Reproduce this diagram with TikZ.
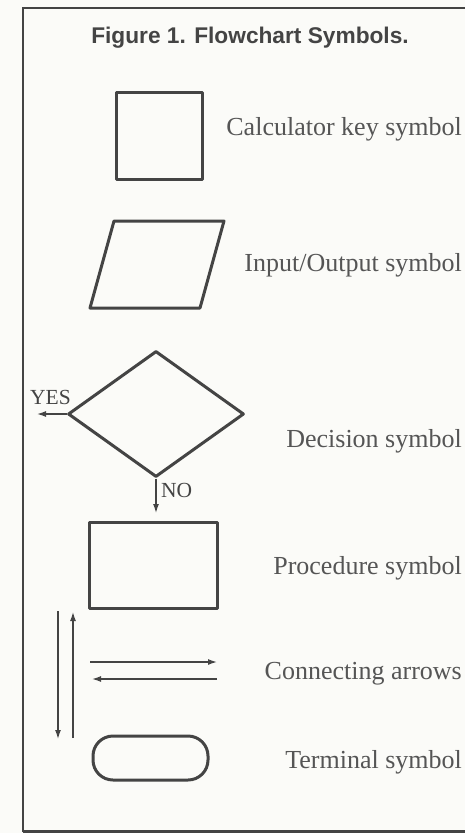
\documentclass[tikz,border=0pt]{standalone}
\usepackage{fontspec}
\setmainfont{Liberation Serif}
\newfontfamily\headfont{Liberation Sans}
\usetikzlibrary{shapes.geometric,arrows.meta}

\definecolor{paper}{HTML}{FBFBF8}
\definecolor{ink}{HTML}{444444}
\definecolor{typeink}{HTML}{555555}

\tikzset{
  symbolline/.style={draw=ink, line width=3pt, line join=round},
  flowarrow/.style={draw=ink, line width=1.3pt,
    -{Latex[length=9pt,width=6pt]}},
  framerule/.style={draw=ink, line width=2.5pt},
  caption/.style={anchor=base east, inner sep=0pt, text=typeink,
    font=\fontsize{26}{30}\selectfont},
  smalltag/.style={anchor=base west, inner sep=0pt, text=ink,
    font=\fontsize{21.5}{24}\selectfont}
}

\begin{document}
\begin{tikzpicture}[x=1pt, y=-1pt]
  % page and frame
  \fill[paper] (0,0) rectangle (465,833);
  \useasboundingbox (0,0) rectangle (465,833);
  \draw[framerule] (23,832) -- (23,8) -- (465,8);
  \draw[framerule] (23,831.5) -- (465,831.5);

  % heading
  \node[anchor=base, inner sep=0pt, text=ink,
        font=\headfont\bfseries\fontsize{22.7}{26}\selectfont]
        (heading) at (250,43) {Figure 1. Flowchart Symbols.};

  % calculator key
  \node[symbolline, rectangle, inner sep=0pt, minimum width=86pt,
        minimum height=87pt] (key) at (159,135.5) {};
  \node[caption] (keylabel) at (462,135) {Calculator key symbol};

  % input/output parallelogram
  \coordinate (io1) at (114,221);
  \coordinate (io2) at (224,221);
  \coordinate (io3) at (200,308);
  \coordinate (io4) at (90,308);
  \draw[symbolline] (io1) -- (io2) -- (io3) -- (io4) -- cycle;
  \node[caption] (iolabel) at (462,271) {Input/Output symbol};

  % decision diamond with its two exits
  \node[symbolline, diamond, inner sep=0pt, minimum width=176pt,
        minimum height=126pt] (dec) at (156,414) {};
  \coordinate (yesend) at (37,414);
  \coordinate (noend) at (156,513);
  \draw[flowarrow] (dec.west) -- (yesend);
  \draw[flowarrow] (dec.south) -- (noend);
  \node[smalltag] (yes) at (30,404) {YES};
  \node[smalltag] (no) at (161,497) {NO};
  \node[caption] (declabel) at (462,447) {Decision symbol};

  % procedure box
  \node[symbolline, rectangle, inner sep=0pt, minimum width=128pt,
        minimum height=86pt] (proc) at (153,565) {};
  \node[caption] (proclabel) at (462,574) {Procedure symbol};

  % connecting arrows
  \coordinate (downA) at (58,611);
  \coordinate (downB) at (58,739);
  \coordinate (upA) at (73,738);
  \coordinate (upB) at (73,612);
  \coordinate (rightA) at (90,662);
  \coordinate (rightB) at (217,662);
  \coordinate (leftA) at (217,679);
  \coordinate (leftB) at (92,679);
  \draw[flowarrow] (downA) -- (downB);
  \draw[flowarrow] (upA) -- (upB);
  \draw[flowarrow] (rightA) -- (rightB);
  \draw[flowarrow] (leftA) -- (leftB);
  \node[caption] (arrowlabel) at (462,679) {Connecting arrows};

  % terminal
  \node[symbolline, rectangle, rounded corners=20pt, inner sep=0pt,
        minimum width=115pt, minimum height=44pt] (term) at (150.5,758) {};
  \node[caption] (termlabel) at (462,768) {Terminal symbol};
\end{tikzpicture}
\end{document}
